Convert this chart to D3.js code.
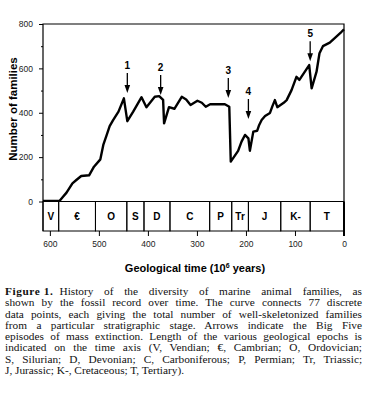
<!DOCTYPE html>
<html><head><meta charset="utf-8">
<script src="https://cdn.jsdelivr.net/npm/d3@7"></script>
<style>body{margin:0;background:#fff}svg{display:block}</style>
</head><body>
<svg id="c" width="368" height="400"></svg>
<script>
// ---- data ----
const ages = [614,580,574,566,554,546,536,520,510,497,491,484,478,471,460,449,442,430,413,403,386,377,369,367,357,346,331,322,313,299,290,282,273,243,234,231,216,209,202,195,192,185,177,173,168,161,151,146,141,136,123,117,107,97,91,71,66,56,50,43,29,5,0];
const families = [3,3,19,40,82,97,115,118,157,190,255,300,340,367,405,465,362,405,470,425,472,475,458,352,425,418,472,460,435,454,445,427,438,438,427,180,228,270,300,285,229,315,319,345,367,385,399,430,457,425,445,457,502,562,548,615,510,585,668,700,716,765,776];
const yTicks = [0,200,400,600,800];
const yMinor = [100,300,500,700];
const xTicks = [600,500,400,300,200,100,0];
const periods = ["V","€","O","S","D","C","P","Tr","J","K-","T"];
const periodStart = [614,582,507,443,408,355,274,229,195,129,69];
const periodEnd   = [582,507,443,408,355,274,229,195,129,69,1];
const arrowLabels = ["1","2","3","4","5"];
const arrowAges = [442,374,236,195,69];
const arrowTops = [597,588,575,480,740]; // value where arrow label sits
const captionLines = [
 ["Figure 1.", "History of the diversity of marine animal families, as"],
 ["", "shown by the fossil record over time. The curve connects 77 discrete"],
 ["", "data points, each giving the total number of well-skeletonized families"],
 ["", "from a particular stratigraphic stage. Arrows indicate the Big Five"],
 ["", "episodes of mass extinction. Length of the various geological epochs is"],
 ["", "indicated on the time axis (V, Vendian; \u20AC, Cambrian; O, Ordovician;"],
 ["", "S, Silurian; D, Devonian; C, Carboniferous; P, Permian; Tr, Triassic;"],
 ["", "J, Jurassic; K-, Cretaceous; T, Tertiary)."]
];

// ---- layout ----
const svg = d3.select("#c");
const L = 43, R = 344, T = 24, B0 = 201.5, BB = 231;
const x = d3.scaleLinear().domain([614,0]).range([L,R]);
const y = d3.scaleLinear().domain([0,800]).range([B0,T]);
const sans = "Liberation Sans, Arial, sans-serif";

// frame
svg.append("path").attr("d",`M${L},${BB}V${T}H${R}V${BB+5}`)
  .attr("fill","none").attr("stroke","#000").attr("stroke-width",1.2);
svg.append("line").attr("x1",R).attr("x2",R).attr("y1",B0).attr("y2",BB+5).attr("stroke","#000").attr("stroke-width",2);

// y axis
const ya = svg.append("g").attr("transform",`translate(${L},0)`)
  .call(d3.axisLeft(y).tickValues(yTicks).tickSize(4).tickPadding(6).tickFormat(d3.format("d")));
ya.select(".domain").remove();
ya.selectAll("text").attr("font-family",sans).attr("font-size",8.5).attr("fill","#222");
const ym = svg.append("g").attr("transform",`translate(${L},0)`)
  .call(d3.axisLeft(y).tickValues(yMinor).tickSize(2).tickFormat(""));
ym.select(".domain").remove();

// timescale boxes
const pg = svg.append("g");
pg.selectAll("rect").data(periods).join("rect")
  .attr("x",(d,i)=>x(periodStart[i])).attr("width",(d,i)=>x(periodEnd[i])-x(periodStart[i]))
  .attr("y",B0).attr("height",BB-B0).attr("fill","none").attr("stroke","#000").attr("stroke-width",1);
pg.selectAll("text").data(periods).join("text")
  .attr("x",(d,i)=>(x(periodStart[i])+x(periodEnd[i]))/2).attr("y",(B0+BB)/2+4)
  .attr("text-anchor","middle").attr("font-family",sans).attr("font-weight","bold").attr("font-size",10)
  .text(d=>d);

// x axis
const xa = svg.append("g").attr("transform",`translate(0,${BB})`)
  .call(d3.axisBottom(x).tickValues(xTicks).tickSize(5).tickPadding(5).tickFormat(d3.format("d")));
xa.select(".domain").remove();
xa.selectAll("text").attr("font-family",sans).attr("font-size",8.5).attr("fill","#222");

// curve
const line = d3.line().x((d,i)=>x(ages[i])).y((d,i)=>y(families[i]));
svg.append("path").datum(families).attr("d",line).attr("fill","none")
  .attr("stroke","#000").attr("stroke-width",2.4).attr("stroke-linejoin","round");

// arrows
const ag = svg.append("g");
arrowAges.forEach((a,i)=>{
  const cx = x(a), ty = y(arrowTops[i]);
  ag.append("text").attr("x",cx).attr("y",ty).attr("text-anchor","middle")
    .attr("font-family",sans).attr("font-weight","bold").attr("font-size",10).text(arrowLabels[i]);
  ag.append("line").attr("x1",cx).attr("x2",cx).attr("y1",ty+4).attr("y2",ty+17)
    .attr("stroke","#000").attr("stroke-width",1.3);
  ag.append("path").attr("d",`M${cx-2.8},${ty+16}L${cx+2.8},${ty+16}L${cx},${ty+24}Z`).attr("fill","#000");
});

// axis titles
svg.append("text").attr("transform",`translate(17,109) rotate(-90)`)
  .attr("text-anchor","middle").attr("font-family",sans).attr("font-weight","bold").attr("font-size",11.5)
  .text("Number of families");
const xt = svg.append("text").attr("x",195).attr("y",272).attr("text-anchor","middle")
  .attr("font-family",sans).attr("font-weight","bold").attr("font-size",11);
xt.append("tspan").text("Geological time (10");
xt.append("tspan").attr("dy",-4).attr("font-size",7).text("6");
xt.append("tspan").attr("dy",4).text(" years)");

// caption (justified with word spacing)
const serif = "Liberation Serif, Times New Roman, serif";
const W = 357;
captionLines.forEach((ln,i)=>{
  const t = svg.append("text").attr("x",5).attr("y",295+i*11.25)
    .attr("font-family",serif).attr("font-size",11.3).attr("fill","#111")
    .attr("xml:space","preserve");
  if (ln[0]) t.append("tspan").attr("font-weight","bold").attr("letter-spacing",0.6).text(ln[0]);
  const body = t.append("tspan").attr("dx",ln[0]?6:0).text(ln[1]);
  if (i < captionLines.length-1) {
    const len = t.node().getComputedTextLength() + (ln[0]?6:0);
    const spaces = (ln[1].match(/ /g)||[]).length;
    if (len < W) body.attr("word-spacing",((W-len)/spaces).toFixed(2));
    else t.attr("textLength",W).attr("lengthAdjust","spacingAndGlyphs");
  }
});
</script>
</body></html>
